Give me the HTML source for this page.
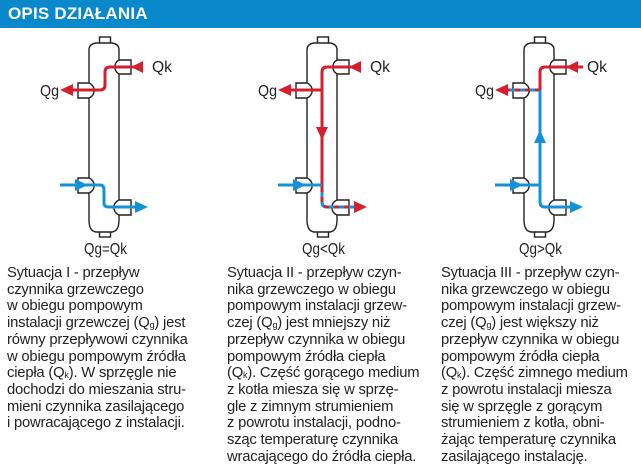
<!DOCTYPE html>
<html><head><meta charset="utf-8"><style>
html,body{margin:0;padding:0;background:#fff;}
body{width:641px;height:470px;position:relative;overflow:hidden;font-family:"Liberation Sans",sans-serif;}
.hdr{position:absolute;left:0;top:0;width:641px;height:28px;background:#0a88cc;}
.hdr span{position:absolute;left:8px;top:4px;color:#fff;font-family:"Liberation Sans",sans-serif;font-weight:bold;font-size:17px;letter-spacing:0.2px;}
.col{position:absolute;top:265px;font-size:14.8px;line-height:16.7px;color:#222;white-space:nowrap;letter-spacing:-0.2px;}
sub{font-size:9px;vertical-align:-1px;line-height:0;}
svg{position:absolute;left:0;top:0;}
</style></head><body>
<div class="hdr"><span>OPIS DZIAŁANIA</span></div>
<svg width="641" height="470" viewBox="0 0 641 470">
<defs>
<g id="v" fill="#fff" stroke="#222" stroke-width="1.4">
<rect x="99.5" y="37" width="11" height="7"/>
<rect x="99.5" y="231" width="11" height="6"/>
<path d="M89,220 L89,50 Q89,44 96,43 L112,43 Q119,44 119,50 L119,220 Q119,231 112,232 L96,232 Q89,231 89,220 Z"/>
<path d="M119,60 L131,60 L131,74 L119,74 A8,8 0 0 1 119,60 Z"/>
<path d="M89,83 L78,83 L78,98 L89,98 A8,8 0 0 0 89,83 Z"/>
<path d="M89,178 L78,178 L78,193 L89,193 A8,8 0 0 0 89,178 Z"/>
<path d="M119,200 L131,200 L131,215 L119,215 A8,8 0 0 1 119,200 Z"/>
</g>
</defs>
<use href="#v"/>
<use href="#v" transform="translate(218,0)"/>
<use href="#v" transform="translate(435,0)"/>
<g fill="none" stroke-width="3">
<path d="M142,67 L110,67 Q105,67 105,72 L105,85 Q105,90 100,90 L70,90" stroke="#d51f2e"/>
<path d="M60,185 L100,185 Q104,185 104,190 L104,203 Q104,207 109,207 L140,207" stroke="#1592d6"/>
<path d="M360,67 L327,67 Q322,67 322,72 L322,187" stroke="#d51f2e"/>
<path d="M322,90 L288,90" stroke="#d51f2e"/>
<path d="M278,185 L322,185" stroke="#1592d6"/>
<path d="M322,187 L322,202 Q322,207 327,207 L360,207" stroke="#1592d6"/>
<path d="M322,187 L322,202 Q322,207 327,207 L360,207" stroke="#d51f2e" stroke-dasharray="5,5"/>
<path d="M583,67 L545,67 Q540,67 540,72 L540,90" stroke="#d51f2e"/>
<path d="M540,90 L505,90" stroke="#1592d6"/>
<path d="M540,90 L505,90" stroke="#d51f2e" stroke-dasharray="5,5"/>
<path d="M495,185 L540,185" stroke="#1592d6"/>
<path d="M540,90 L540,202 Q540,207 545,207 L575,207" stroke="#1592d6"/>
</g>
<g>
<path d="M131,67 L143,61 L143,73 Z" fill="#d51f2e"/>
<path d="M60,90 L73,84 L73,96 Z" fill="#d51f2e"/>
<path d="M88,185 L75,179 L75,191 Z" fill="#1592d6"/>
<path d="M148,207 L135,201 L135,213 Z" fill="#1592d6"/>
<path d="M349,67 L361,61 L361,73 Z" fill="#d51f2e"/>
<path d="M278,90 L291,84 L291,96 Z" fill="#d51f2e"/>
<path d="M322,140 L316,127 L328,127 Z" fill="#d51f2e"/>
<path d="M306,185 L293,179 L293,191 Z" fill="#1592d6"/>
<path d="M367,207 L354,201 L354,213 Z" fill="#d51f2e"/>
<path d="M566,67 L578,61 L578,73 Z" fill="#d51f2e"/>
<path d="M495,90 L508,84 L508,96 Z" fill="#d51f2e"/>
<path d="M540,130 L534,143 L546,143 Z" fill="#1592d6"/>
<path d="M523,185 L510,179 L510,191 Z" fill="#1592d6"/>
<path d="M583,207 L570,201 L570,213 Z" fill="#1592d6"/>
</g>
<g font-family="Liberation Sans, sans-serif" font-size="16" fill="#222">
<text x="152" y="72" textLength="20" lengthAdjust="spacingAndGlyphs">Qk</text>
<text x="40" y="96" textLength="19" lengthAdjust="spacingAndGlyphs">Qg</text>
<text x="84" y="254" textLength="43" lengthAdjust="spacingAndGlyphs">Qg=Qk</text>
<text x="370" y="72" textLength="20" lengthAdjust="spacingAndGlyphs">Qk</text>
<text x="258" y="96" textLength="19" lengthAdjust="spacingAndGlyphs">Qg</text>
<text x="302" y="254" textLength="43" lengthAdjust="spacingAndGlyphs">Qg&lt;Qk</text>
<text x="587" y="72" textLength="20" lengthAdjust="spacingAndGlyphs">Qk</text>
<text x="475" y="96" textLength="19" lengthAdjust="spacingAndGlyphs">Qg</text>
<text x="519" y="254" textLength="43" lengthAdjust="spacingAndGlyphs">Qg&gt;Qk</text>
</g>
</svg>
<div class="col" style="left:7px">Sytuacja I - przepływ<br>czynnika grzewczego<br>w obiegu pompowym<br>instalacji grzewczej (Q<sub>g</sub>) jest<br>równy przepływowi czynnika<br>w obiegu pompowym źródła<br>ciepła (Q<sub>k</sub>). W sprzęgle nie<br>dochodzi do mieszania stru-<br>mieni czynnika zasilającego<br>i powracającego z instalacji.</div>
<div class="col" style="left:227px">Sytuacja II - przepływ czyn-<br>nika grzewczego w obiegu<br>pompowym instalacji grzew-<br>czej (Q<sub>g</sub>) jest mniejszy niż<br>przepływ czynnika w obiegu<br>pompowym źródła ciepła<br>(Q<sub>k</sub>). Część gorącego medium<br>z kotła miesza się w sprzę-<br>gle z zimnym strumieniem<br>z powrotu instalacji, podno-<br>sząc temperaturę czynnika<br>wracającego do źródła ciepła.</div>
<div class="col" style="left:441px">Sytuacja III - przepływ czyn-<br>nika grzewczego w obiegu<br>pompowym instalacji grzew-<br>czej (Q<sub>g</sub>) jest większy niż<br>przepływ czynnika w obiegu<br>pompowym źródła ciepła<br>(Q<sub>k</sub>). Część zimnego medium<br>z powrotu instalacji miesza<br>się w sprzęgle z gorącym<br>strumieniem z kotła, obni-<br>żając temperaturę czynnika<br>zasilającego instalację.</div>
</body></html>
